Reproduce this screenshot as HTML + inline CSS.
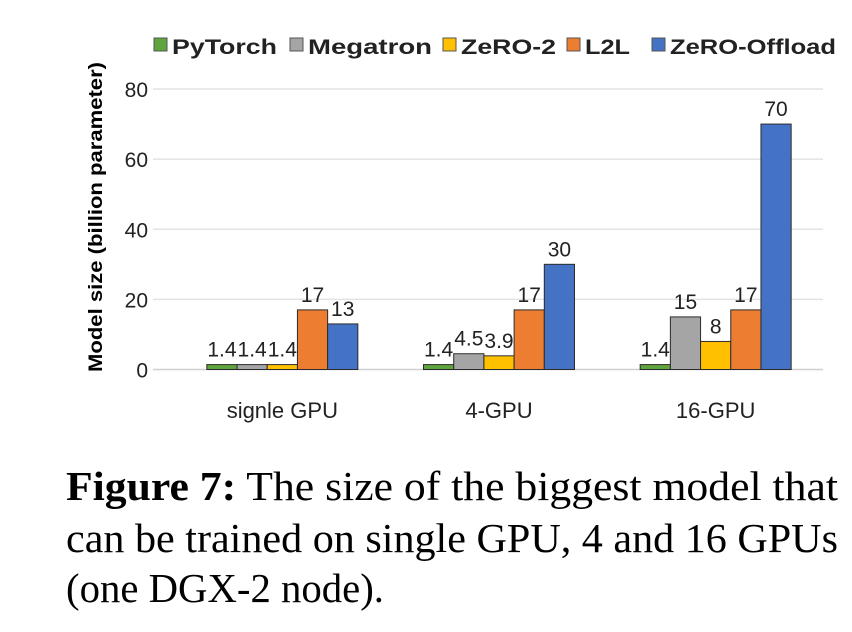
<!DOCTYPE html>
<html><head><meta charset="utf-8"><style>
html,body{margin:0;padding:0;background:#fff;width:852px;height:632px;overflow:hidden}
svg{display:block}
</style></head><body>
<svg id="chart" width="852" height="632" viewBox="0 0 852 632" xmlns="http://www.w3.org/2000/svg" font-family="Liberation Sans Narrow, Liberation Sans, sans-serif">
<g id="grid"></g>
<g id="yticks"></g>
<g id="bars"></g>
<g id="labels"></g>
<g id="xcats"></g>
<g id="legend"></g>
<text transform="translate(102,217) rotate(-90)" text-anchor="middle" font-size="19" font-weight="bold" textLength="310" lengthAdjust="spacingAndGlyphs">Model size (billion parameter)</text>
<g font-family="Liberation Serif, serif" font-size="41" fill="#000">
<text x="66" y="500" textLength="772" lengthAdjust="spacingAndGlyphs"><tspan font-weight="bold">Figure 7:</tspan> The size of the biggest model that</text>
<text x="66" y="552" textLength="772" lengthAdjust="spacingAndGlyphs">can be trained on single GPU, 4 and 16 GPUs</text>
<text x="66" y="602" textLength="318" lengthAdjust="spacingAndGlyphs">(one DGX-2 node).</text>
</g>
</svg>
<script>
const categories = ["signle GPU", "4-GPU", "16-GPU"];
const seriesNames = ["PyTorch", "Megatron", "ZeRO-2", "L2L", "ZeRO-Offload"];
const pytorch = [1.4, 1.4, 1.4];
const megatron = [1.4, 4.5, 15];
const zero2 = [1.4, 3.9, 8];
const l2l = [17, 17, 17];
const zeroOffload = [13, 30, 70];
const yTicks = [0, 20, 40, 60, 80];
const series = [pytorch, megatron, zero2, l2l, zeroOffload];
const colors = ["#5fa53d", "#a5a5a5", "#ffc000", "#ed7d31", "#4472c4"];
const NS = "http://www.w3.org/2000/svg";
const x0 = 174, x1 = 824, yBase = 369.5, yTop = 89;
const yMax = 80;
const y = v => yBase - (v / yMax) * (yBase - yTop);
const band = (x1 - x0) / categories.length;
const barW = 30.2;
function mk(tag, attrs, parent) { const e = document.createElementNS(NS, tag); for (const k in attrs) e.setAttribute(k, attrs[k]); parent.appendChild(e); return e; }
const grid = document.getElementById('grid'), yt = document.getElementById('yticks');
yTicks.forEach(t => {
  const l = mk('line', {x1: 153, x2: 823, y1: y(t), y2: y(t), stroke: t === 0 ? '#d0d0d0' : '#e3e3e3', 'stroke-width': 1.5}, grid);
  
  
  const tx = mk('text', {x: 148, y: y(t) + 8, 'text-anchor': 'end', 'font-size': 21, fill: '#222'}, yt);
  tx.textContent = t;
  
  
});
const bars = document.getElementById('bars'), labels = document.getElementById('labels'), xc = document.getElementById('xcats');
categories.forEach((c, i) => {
  const cx = x0 + band * (i + 0.5);
  const start = cx - barW * series.length / 2;
  series.forEach((s, j) => {
    const v = s[i];
    const bx = start + j * barW;
    const r = mk('rect', {x: bx, y: y(v), width: barW, height: yBase - y(v), fill: colors[j], stroke: '#2b2b2b', 'stroke-width': 1}, bars);
    
    
    const t = mk('text', {x: bx + barW / 2, y: y(v) - 8, 'text-anchor': 'middle', 'font-size': 21, fill: '#222'}, labels);
    t.textContent = v;
    
    
  });
  const ct = mk('text', {x: cx, y: 418, 'text-anchor': 'middle', 'font-size': 22, fill: '#222'}, xc);
  ct.textContent = c;
  
  
});
const lg = document.getElementById('legend');
const legX = [154, 290, 443, 567, 652], legW = [105, 124, 95, 45, 166];
seriesNames.forEach((n, j) => {
  const g = mk('g', {}, lg);
  
  
  mk('rect', {x: legX[j], y: 38, width: 13, height: 13, fill: colors[j], stroke: '#555', 'stroke-width': 1}, g);
  const t = mk('text', {x: legX[j] + 18, y: 54, 'font-size': 21, 'font-weight': 'bold', fill: '#222', textLength: legW[j], lengthAdjust: 'spacingAndGlyphs'}, g);
  t.textContent = n;
});
</script>
</body></html>
